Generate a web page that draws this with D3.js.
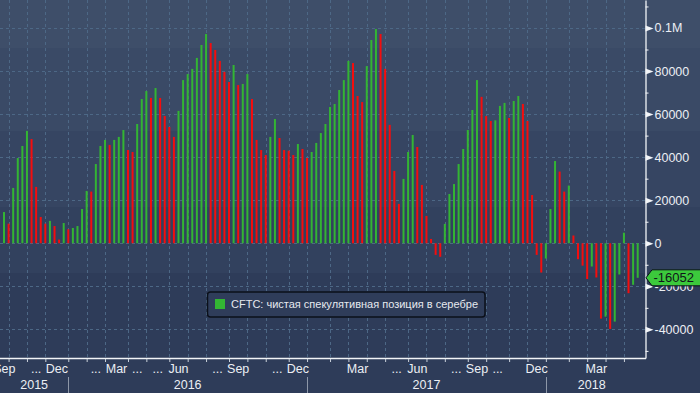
<!DOCTYPE html>
<html>
<head>
<meta charset="utf-8">
<script src="https://cdn.jsdelivr.net/npm/d3@7"></script>
<style>
html, body { margin: 0; padding: 0; background: #2e3c59; }
svg { display: block; font-family: "Liberation Sans", Arial, sans-serif; }
</style>
</head>
<body>
<svg id="chart" width="700" height="393"></svg>
<script>
// weekly CFTC report dates (tuesdays) Sep 22 2015 .. May 15 2018
const dates = d3.timeTuesday.range(new Date(2015, 8, 22), new Date(2018, 4, 16))

// net speculative position in silver, contracts
const netPos = [
  14500, 9100, 25700, 39600, 45200, 52200, 48400, 26200, 12200, 9100,
  10400, 8000, 1700, 9400, 6500, 7100, 8000, 15900, 24300, 24000,
  36800, 45200, 48000, 45700, 48000, 49400, 52600, 43300, 42400, 55400,
  67000, 70700, 67500, 72100, 67500, 59100, 54000, 49400, 61500, 75800,
  78600, 81000, 86100, 92100, 97200, 93000, 89800, 84700, 79600, 74900,
  82800, 73500, 74000, 78600, 67000, 48000, 43300, 41000, 49400, 57700,
  48900, 43300, 43000, 41000, 46100, 43800, 39600, 42400, 46600, 51200,
  55400, 63300, 64700, 71200, 75800, 84700, 83700, 68400, 65600, 82300,
  94400, 99500, 97200, 81000, 55000, 33600, 18300, 29900, 42400, 50300,
  44700, 27100, 12700, 2000, -5400, -6300, 9000, 22900, 27500, 36800,
  43800, 52600, 61900, 75800, 68000, 59100, 56800, 57100, 63800, 65200,
  58200, 66100, 68400, 64700, 56800, 22400, -5400, -13600, -7100, 15900,
  38200, 33300, 24000, 26800, 3600, -7400, -10400, -16600, -10800, -15900,
  -35000, -34100, -39800, -36400, -14500, 4900, -23200, -19300, -16052
]

const yMajor = [100000, 80000, 60000, 40000, 20000, 0, -20000, -40000]
const yLabels = ["0.1M", "80000", "60000", "40000", "20000", "0", "-20000", "-40000"]
const yMinor = [110000, 90000, 70000, 50000, 30000, 10000, -10000, -30000, -50000]

// month labels shown on the axis ("..." where the name did not fit)
const monthLabels = [
  {m: "2015-09", t: "Sep"}, {m: "2015-11", t: "..."}, {m: "2015-12", t: "Dec"},
  {m: "2016-02", t: "..."}, {m: "2016-03", t: "Mar"}, {m: "2016-04", t: "..."},
  {m: "2016-05", t: "..."}, {m: "2016-06", t: "Jun"}, {m: "2016-08", t: "..."},
  {m: "2016-09", t: "Sep"}, {m: "2016-11", t: "..."}, {m: "2016-12", t: "Dec"},
  {m: "2017-03", t: "Mar"}, {m: "2017-05", t: "..."}, {m: "2017-06", t: "Jun"},
  {m: "2017-08", t: "..."}, {m: "2017-09", t: "Sep"}, {m: "2017-10", t: "..."},
  {m: "2017-12", t: "Dec"}, {m: "2018-03", t: "Mar"}
]
const years = [2015, 2016, 2017, 2018]
const legendText = "CFTC: чистая спекулятивная позиция в серебре"

const W = 700, H = 393
const PR = 645, PB = 358
const GREEN = "#33b533", RED = "#f50d0d"

const svg = d3.select("#chart")
const defs = svg.append("defs")

// stepped background
const bands = [[0, "#3e4e69"], [48, "#3a4a66"], [131, "#364562"], [207, "#32415e"], [273, "#2e3c59"]]
const grad = defs.append("linearGradient").attr("id", "bg")
  .attr("x1", 0).attr("x2", 0).attr("y1", 0).attr("y2", 1)
bands.forEach((b, i) => {
  const next = i < bands.length - 1 ? bands[i + 1][0] : H
  grad.append("stop").attr("offset", b[0] / H).attr("stop-color", b[1])
  grad.append("stop").attr("offset", next / H).attr("stop-color", b[1])
})
svg.append("rect").attr("width", W).attr("height", H).attr("fill", "url(#bg)")

defs.append("clipPath").attr("id", "plot")
  .append("rect").attr("width", PR).attr("height", PB)

const x = d3.scalePoint().domain(dates).range([4, PR - 7.3])
const y = d3.scaleLinear().domain([-53300, 113000]).range([PB, 0])

// month ticks sit on the last report before the month starts
const months = d3.timeMonth.range(new Date(2015, 8, 1), new Date(2018, 5, 1))
const tickX = (m) => {
  const before = dates.filter(d => d < m)
  if (before.length === 0) return 0
  return x(before[before.length - 1])
}
const tickMonths = months.slice(1)
const tickDates = tickMonths.map(m => dates.filter(d => d < m).pop())

// grid
const grid = svg.append("g").attr("clip-path", "url(#plot)")
  .attr("stroke", "#4d6886").attr("stroke-dasharray", "3,3")
grid.selectAll(".hg").data(yMajor).enter().append("line")
  .attr("x1", 0).attr("x2", PR)
  .attr("y1", d => Math.round(y(d)) + 0.5).attr("y2", d => Math.round(y(d)) + 0.5)
grid.selectAll(".vg").data(tickDates).enter().append("line")
  .attr("y1", 0).attr("y2", PB)
  .attr("x1", d => Math.round(x(d)) + 0.5).attr("x2", d => Math.round(x(d)) + 0.5)

// bars
svg.append("g").attr("clip-path", "url(#plot)")
  .selectAll("rect").data(netPos).enter().append("rect")
  .attr("x", (d, i) => x(dates[i]) - 1)
  .attr("width", 2)
  .attr("y", d => y(Math.max(d, 0)))
  .attr("height", d => Math.abs(y(d) - y(0)))
  .attr("fill", (d, i) => (i === 0 || d >= netPos[i - 1]) ? GREEN : RED)

// right axis
const yAxis = svg.append("g")
  .attr("transform", `translate(${PR + 0.5},0)`)
  .call(d3.axisRight(y).tickValues(yMajor)
    .tickFormat((d, i) => yLabels[i])
    .tickSize(0).tickSizeOuter(0).tickPadding(9))
yAxis.select(".domain").attr("stroke", "#f2f4f7").attr("stroke-width", 1.3)
yAxis.selectAll(".tick text").attr("fill", "#eceff4").attr("font-size", "12.5px")
  .attr("font-family", "\"Liberation Sans\", Arial, sans-serif")
yAxis.selectAll(".tick").append("path")
  .attr("d", "M0,-3L8,0L0,3Z").attr("fill", "#f2f4f7")

const yMinorAxis = svg.append("g")
  .attr("transform", `translate(${PR + 0.5},0)`)
  .call(d3.axisRight(y).tickValues(yMinor).tickFormat("").tickSize(3).tickSizeOuter(0))
yMinorAxis.select(".domain").remove()
yMinorAxis.selectAll("line").attr("stroke", "#f2f4f7")

// bottom axis
svg.append("line")
  .attr("x1", 0).attr("x2", PR + 1).attr("y1", PB + 0.5).attr("y2", PB + 0.5)
  .attr("stroke", "#f2f4f7").attr("stroke-width", 1.3)
const xAxis = svg.append("g")
  .attr("transform", `translate(0,${PB + 1})`)
  .call(d3.axisBottom(x).tickValues(tickDates).tickFormat("").tickSize(3).tickSizeOuter(0))
xAxis.select(".domain").remove()
xAxis.selectAll("line").attr("stroke", "#c9d0da")

const parseMonth = d3.timeParse("%Y-%m")
svg.append("g").selectAll("text").data(monthLabels).enter().append("text")
  .attr("x", d => {
    const m = parseMonth(d.m)
    const a = tickX(m)
    const b = Math.min(tickX(d3.timeMonth.offset(m, 1)), PR)
    return (a + b) / 2
  })
  .attr("y", 369).attr("dy", "0.35em")
  .attr("text-anchor", "middle")
  .attr("font-size", "12.5px").attr("fill", "#eceff4")
  .text(d => d.t)

const yearStart = (yr) => Math.min(tickX(new Date(yr, 0, 1)), PR)
svg.append("g").selectAll("text").data(years).enter().append("text")
  .attr("x", d => (yearStart(d) + yearStart(d + 1)) / 2)
  .attr("y", 385).attr("dy", "0.35em")
  .attr("text-anchor", "middle")
  .attr("font-size", "12.5px").attr("fill", "#eceff4")
  .text(d => d)
svg.append("g").selectAll("line").data(years.slice(1)).enter().append("line")
  .attr("x1", d => Math.round(yearStart(d)) + 0.5).attr("x2", d => Math.round(yearStart(d)) + 0.5)
  .attr("y1", 377).attr("y2", H)
  .attr("stroke", "#8d97a8")

// legend
const lg = svg.append("g").attr("transform", "translate(207.5,292)")
lg.append("rect").attr("width", 277.5).attr("height", 25).attr("rx", 3)
  .attr("fill", "#2f3d5a").attr("stroke", "#0b101a").attr("stroke-width", 1.5)
lg.append("rect").attr("x", 7.5).attr("y", 7).attr("width", 10).attr("height", 10)
  .attr("fill", GREEN)
lg.append("text").attr("x", 23.5).attr("y", 12.5).attr("dy", "0.35em")
  .attr("font-size", "11px").attr("fill", "#e6e9ef")
  .text(legendText)

// last value tag
const last = netPos[netPos.length - 1]
const ty = y(last)
svg.append("path")
  .attr("d", `M${PR + 1},${ty}L${PR + 7},${ty - 8}L${W + 2},${ty - 8}L${W + 2},${ty + 8}L${PR + 7},${ty + 8}Z`)
  .attr("fill", "#3cc93c").attr("stroke", "#0b101a").attr("stroke-width", 1)
svg.append("text").attr("x", PR + 8.5).attr("y", ty).attr("dy", "0.35em")
  .attr("font-size", "13px").attr("fill", "#10141a")
  .text(last)
</script>
</body>
</html>
